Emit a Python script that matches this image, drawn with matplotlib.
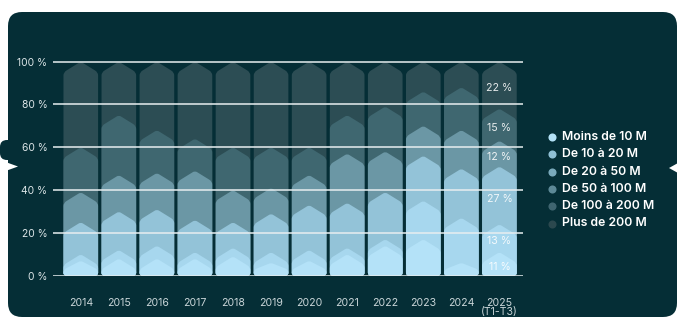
import numpy as np
import matplotlib
matplotlib.use("Agg")
import matplotlib.pyplot as plt
from matplotlib.path import Path
from matplotlib.patches import PathPatch, FancyBboxPatch, Polygon

plt.rcParams['font.family'] = ['Inter', 'DejaVu Sans']

years = ['2014', '2015', '2016', '2017', '2018', '2019', '2020', '2021',
         '2022', '2023', '2024', '2025\n(T1-T3)']
series_names = ['Moins de 10 M', 'De 10 à 20 M', 'De 20 à 50 M',
                'De 50 à 100 M', 'De 100 à 200 M', 'Plus de 200 M']
moins_10 = [7, 8, 8, 8, 9, 6, 7, 10, 14, 17, 6, 11]
de_10_20 = [3, 4, 6, 3, 4, 5, 5, 3, 3, 18, 21, 13]
de_20_50 = [15, 18, 17, 15, 12, 18, 21, 21, 22, 21, 23, 27]
de_50_100 = [14, 17, 17, 23, 15, 12, 14, 23, 19, 14, 18, 12]
de_100_200 = [21, 28, 20, 15, 20, 19, 13, 18, 21, 16, 20, 15]
plus_200 = [40, 25, 32, 36, 40, 40, 40, 25, 21, 14, 12, 22]
y_ticks = [0, 20, 40, 60, 80, 100]

bar_colors = ['#b4e2f8', '#a7d7ee', '#93c3d8', '#6b97a5', '#3f6770', '#2c4d54']
dot_colors = ['#b3e1f6', '#8fc0d5', '#79a9bb', '#5d8997', '#3f6570', '#2b484e']
bg = '#052e36'

data = np.array([moins_10, de_10_20, de_20_50, de_50_100, de_100_200, plus_200])
cum = np.cumsum(data, axis=0)

W, H = 678, 318
fig = plt.figure(figsize=(W / 100, H / 100), dpi=100)
fig.patch.set_facecolor('white')

# card background, drawn in pixel units
deco = fig.add_axes([0, 0, 1, 1], zorder=0)
deco.set_xlim(0, W)
deco.set_ylim(H, 0)
deco.axis('off')
deco.add_patch(FancyBboxPatch((8, 12), 669, 305, boxstyle="round,pad=0,rounding_size=14",
                              fc=bg, ec='none'))
deco.add_patch(FancyBboxPatch((0, 140), 20, 20, boxstyle="round,pad=0,rounding_size=7",
                              fc=bg, ec='none'))
deco.add_patch(Polygon([(0, 160), (18, 166.5), (0, 173)], fc='white', ec='none'))
deco.add_patch(Polygon([(678, 163), (669, 168), (678, 173)], fc='white', ec='none'))

# legend
for i, name in enumerate(series_names):
    yy = 137 + i * 17.3
    deco.scatter([552], [yy], s=34, color=dot_colors[i], linewidths=0)
    deco.text(562, yy, name, color='white', fontsize=8.8, fontweight='semibold',
              va='center', ha='left')

ax = fig.add_axes([53 / W, (H - 275.7) / H, 470 / W, (275.7 - 55) / H], zorder=1)
ax.set_facecolor('none')
ax.set_xlim(-0.73, 11.62)
ax.set_ylim(0, 103.1)

hw = 0.455     # half width of a bar
h = 5.0        # chevron height
dx, dy = 0.08, 1.4


def chevron(xc, top):
    xl, xr = xc - hw, xc + hw
    sh = max(top - h, 2 * dy)
    sl = (top - sh) / hw
    verts = [(xl, dy), (xl, 0), (xl + dx, 0),
             (xr - dx, 0), (xr, 0), (xr, dy),
             (xr, sh - dy), (xr, sh), (xr - dx, sh + sl * dx),
             (xc + dx * 0.7, top - sl * dx * 0.7), (xc, top), (xc - dx * 0.7, top - sl * dx * 0.7),
             (xl + dx, sh + sl * dx), (xl, sh), (xl, sh - dy),
             (xl, dy)]
    codes = [Path.MOVETO, Path.CURVE3, Path.CURVE3,
             Path.LINETO, Path.CURVE3, Path.CURVE3,
             Path.LINETO, Path.CURVE3, Path.CURVE3,
             Path.LINETO, Path.CURVE3, Path.CURVE3,
             Path.LINETO, Path.CURVE3, Path.CURVE3,
             Path.CLOSEPOLY]
    return Path(verts, codes)


x = np.arange(len(years))
for j in x:
    for k in range(5, -1, -1):
        ax.add_patch(PathPatch(chevron(j, cum[k, j]), fc=bar_colors[k], ec='none',
                               zorder=2 + (5 - k)))

# labels on the last bar
last = len(years) - 1
for k in range(6):
    mid = cum[k, last] - data[k, last] / 2 - 1.5
    ax.text(last, mid, f"{data[k, last]} %", ha='center', va='center',
            color='white', alpha=0.88, fontsize=7.6, zorder=20)

for t in y_ticks:
    ax.axhline(t, color='#e8eef0', lw=1.1, zorder=15)

ax.set_yticks(y_ticks)
ax.set_yticklabels([f"{t} %" for t in y_ticks], color='#dde6e8', fontsize=7.4)
ax.set_xticks(x)
ax.set_xticklabels(years, color='#c9d5d8', fontsize=7.6, linespacing=0.9)
ax.tick_params(axis='y', length=0, pad=4)
ax.tick_params(axis='x', length=0, pad=16)
for s in ax.spines.values():
    s.set_visible(False)

fig.savefig('out.png', dpi=100, facecolor=fig.get_facecolor())
